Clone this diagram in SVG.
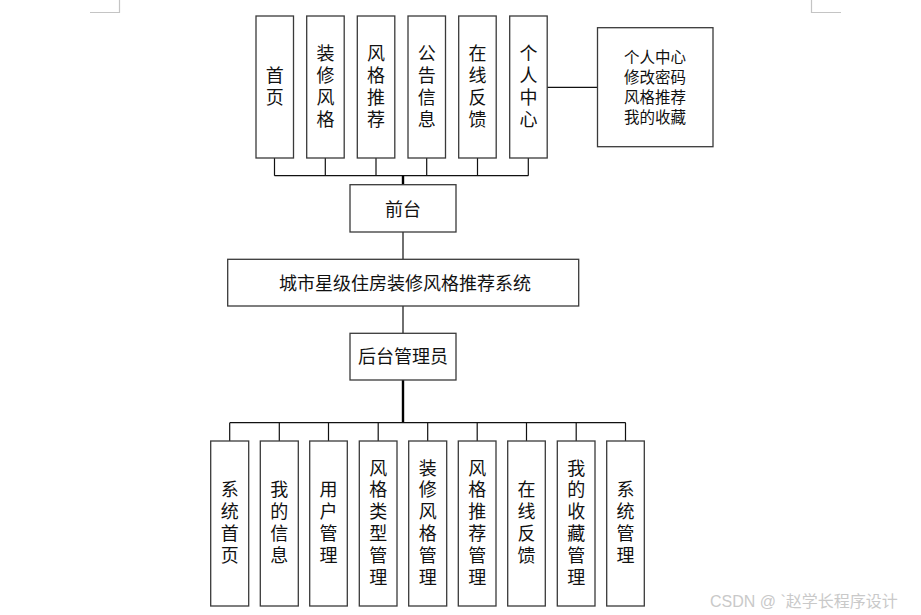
<svg xmlns="http://www.w3.org/2000/svg" width="921" height="615" viewBox="0 0 921 615">
<style>
.box{fill:#fff;stroke:#3a3a3a;stroke-width:1.3}
.t{font-family:"Noto Sans CJK SC","Liberation Sans",sans-serif;font-size:18px;fill:#111;text-anchor:middle}
.s{font-family:"Noto Sans CJK SC","Liberation Sans",sans-serif;font-size:15.5px;fill:#111;text-anchor:middle}
.ln{stroke:#111;stroke-width:1.2;fill:none}
.thick{stroke:#000;stroke-width:2.4;fill:none}
.corner{stroke:#c4c4c4;stroke-width:1.2;fill:none}
.wm{font-family:"Liberation Sans","Noto Sans CJK SC",sans-serif;font-size:16px;fill:#c9c9c9}
</style>
<rect width="921" height="615" fill="#fff"/>
<path class="corner" d="M119.5 0V12.5H90M811.5 0V12.5H841"/>
<g id="connectors">
<path class="ln" d="M274.5 158V175.7M325.3 158V175.7M376 158V175.7M426.7 158V175.7M477.5 158V175.7M528.3 158V175.7M274.5 175.7H528.3"/>
<path class="thick" d="M403 175.7V185"/>
<path class="ln" d="M547 87.3H597.5"/>
<path class="ln" d="M403 232V259.5M403 306V333.5"/>
<path class="thick" d="M403 380V422.7"/>
<path class="ln" d="M229.7 422.7H625.7M229.7 422.7V441M279.3 422.7V441M328.5 422.7V441M378.2 422.7V441M427.7 422.7V441M477.2 422.7V441M526.5 422.7V441M576.2 422.7V441M625.5 422.7V441"/>
</g>
<g id="n-home"><rect class="box" x="256" y="16" width="37.5" height="142"/><text class="t" x="274.7" y="82">首</text><text class="t" x="274.7" y="104">页</text></g>
<g id="n-zxfg"><rect class="box" x="306.7" y="16" width="37.5" height="142"/><text class="t" x="325.4" y="60">装</text><text class="t" x="325.4" y="82">修</text><text class="t" x="325.4" y="104">风</text><text class="t" x="325.4" y="126">格</text></g>
<g id="n-fgtj"><rect class="box" x="357.3" y="16" width="37.5" height="142"/><text class="t" x="376" y="60">风</text><text class="t" x="376" y="82">格</text><text class="t" x="376" y="104">推</text><text class="t" x="376" y="126">荐</text></g>
<g id="n-ggxx"><rect class="box" x="408" y="16" width="37.5" height="142"/><text class="t" x="426.7" y="60">公</text><text class="t" x="426.7" y="82">告</text><text class="t" x="426.7" y="104">信</text><text class="t" x="426.7" y="126">息</text></g>
<g id="n-zxfk"><rect class="box" x="458.7" y="16" width="37.5" height="142"/><text class="t" x="477.5" y="60">在</text><text class="t" x="477.5" y="82">线</text><text class="t" x="477.5" y="104">反</text><text class="t" x="477.5" y="126">馈</text></g>
<g id="n-grzx"><rect class="box" x="509.7" y="16" width="37.5" height="142"/><text class="t" x="528.4" y="60">个</text><text class="t" x="528.4" y="82">人</text><text class="t" x="528.4" y="104">中</text><text class="t" x="528.4" y="126">心</text></g>
<g id="n-grzx-detail"><rect class="box" x="597.5" y="27.7" width="115.5" height="119"/><text class="s" x="655" y="62.5">个人中心</text><text class="s" x="655" y="82.5">修改密码</text><text class="s" x="655" y="102.5">风格推荐</text><text class="s" x="655" y="122.5">我的收藏</text></g>
<g id="n-qt"><rect class="box" x="350" y="184.7" width="106" height="47.3"/><text class="t" x="403" y="215.5">前台</text></g>
<g id="n-sys"><rect class="box" x="227.7" y="259.3" width="351" height="46.7"/><text class="t" x="405" y="289.5">城市星级住房装修风格推荐系统</text></g>
<g id="n-ht"><rect class="box" x="350" y="333.3" width="106" height="46.7"/><text class="t" x="403" y="363">后台管理员</text></g>
<g id="n-b1"><rect class="box" x="210.7" y="441" width="38" height="165"/><text class="t" x="229.7" y="496">系</text><text class="t" x="229.7" y="518">统</text><text class="t" x="229.7" y="540">首</text><text class="t" x="229.7" y="562">页</text></g>
<g id="n-b2"><rect class="box" x="260.3" y="441" width="38" height="165"/><text class="t" x="279.3" y="496">我</text><text class="t" x="279.3" y="518">的</text><text class="t" x="279.3" y="540">信</text><text class="t" x="279.3" y="562">息</text></g>
<g id="n-b3"><rect class="box" x="309.7" y="441" width="37.6" height="165"/><text class="t" x="328.5" y="496">用</text><text class="t" x="328.5" y="518">户</text><text class="t" x="328.5" y="540">管</text><text class="t" x="328.5" y="562">理</text></g>
<g id="n-b4"><rect class="box" x="359.3" y="441" width="37.7" height="165"/><text class="t" x="378.2" y="474.5">风</text><text class="t" x="378.2" y="496">格</text><text class="t" x="378.2" y="518">类</text><text class="t" x="378.2" y="540">型</text><text class="t" x="378.2" y="562">管</text><text class="t" x="378.2" y="584">理</text></g>
<g id="n-b5"><rect class="box" x="408.7" y="441" width="38" height="165"/><text class="t" x="427.7" y="474.5">装</text><text class="t" x="427.7" y="496">修</text><text class="t" x="427.7" y="518">风</text><text class="t" x="427.7" y="540">格</text><text class="t" x="427.7" y="562">管</text><text class="t" x="427.7" y="584">理</text></g>
<g id="n-b6"><rect class="box" x="458.3" y="441" width="37.7" height="165"/><text class="t" x="477.2" y="474.5">风</text><text class="t" x="477.2" y="496">格</text><text class="t" x="477.2" y="518">推</text><text class="t" x="477.2" y="540">荐</text><text class="t" x="477.2" y="562">管</text><text class="t" x="477.2" y="584">理</text></g>
<g id="n-b7"><rect class="box" x="507.7" y="441" width="37.6" height="165"/><text class="t" x="526.5" y="496">在</text><text class="t" x="526.5" y="518">线</text><text class="t" x="526.5" y="540">反</text><text class="t" x="526.5" y="562">馈</text></g>
<g id="n-b8"><rect class="box" x="557.3" y="441" width="37.7" height="165"/><text class="t" x="576.2" y="474.5">我</text><text class="t" x="576.2" y="496">的</text><text class="t" x="576.2" y="518">收</text><text class="t" x="576.2" y="540">藏</text><text class="t" x="576.2" y="562">管</text><text class="t" x="576.2" y="584">理</text></g>
<g id="n-b9"><rect class="box" x="606.7" y="441" width="37.6" height="165"/><text class="t" x="625.5" y="496">系</text><text class="t" x="625.5" y="518">统</text><text class="t" x="625.5" y="540">管</text><text class="t" x="625.5" y="562">理</text></g>
<text class="wm" x="710" y="606.5">CSDN @ `赵学长程序设计</text>
</svg>
